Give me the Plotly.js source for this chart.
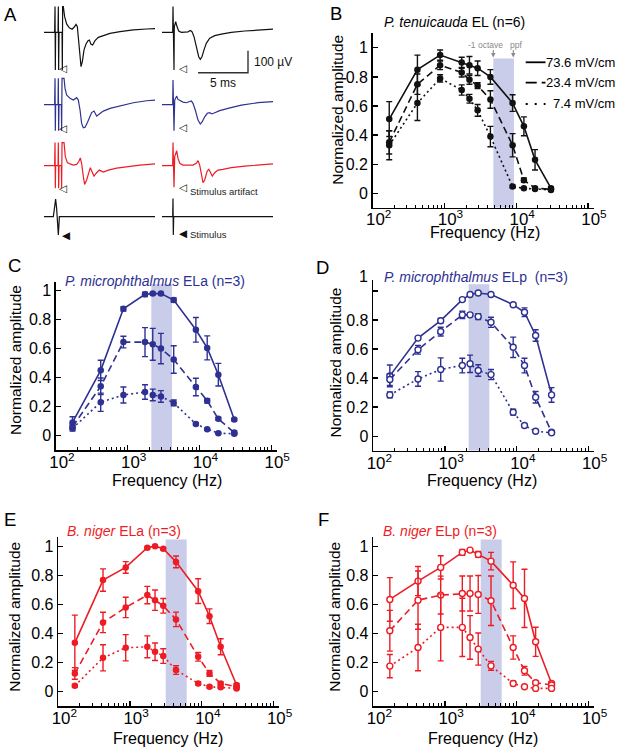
<!DOCTYPE html>
<html>
<head>
<meta charset="utf-8">
<script src="https://cdn.plot.ly/plotly-3.0.1.min.js"></script>
<style>html,body{margin:0;padding:0;background:#fff;}#chart{width:617px;height:747px;}</style>
</head>
<body>
<div id="chart"></div>
<script>
// ---------------- DATA ----------------
const freq = [170, 420, 870, 1740, 2230, 2900, 4370, 8900, 12800, 18300, 30500];
const yTickVals = [0, 0.2, 0.4, 0.6, 0.8, 1];
const yTickText = ['0', '0.2', '0.4', '0.6', '0.8', '1'];
const fieldLabels = ['73.6 mV/cm', '23.4 mV/cm', '7.4 mV/cm'];

// B: P. tenuicauda EL
const bHigh = [0.51, 0.85, 0.95, 0.90, 0.88, 0.86, 0.80, 0.62, 0.46, 0.23, 0.035];
const bHighErr = [0.12, 0.10, 0.035, 0.035, 0.06, 0.05, 0.05, 0.057, 0.065, 0.07, 0.01];
const bMid = [0.35, 0.75, 0.88, 0.83, 0.78, 0.74, 0.645, 0.33, 0.09, 0.035, 0.027];
const bMidErr = [0.08, 0.07, 0.03, 0.03, 0.03, 0.02, 0.06, 0.08, 0.015, 0.01, 0.01];
const bLow = [0.33, 0.62, 0.79, 0.71, 0.65, 0.57, 0.39, 0.046, 0.034, 0.03, 0.023];
const bLowErr = [0.1, 0.12, 0.025, 0.035, 0.03, 0.04, 0.07, 0.01, 0.005, 0.005, 0.005];
const bBand = [4800, 9300];

// C: P. microphthalmus ELa
const cHigh = [0.09, 0.45, 0.875, 0.975, 0.98, 0.98, 0.935, 0.73, 0.605, 0.42, 0.11];
const cHighErr = [0.04, 0.07, 0.015, 0.015, 0.008, 0.008, 0.015, 0.085, 0.083, 0.078, 0.008];
const cMid = [0.06, 0.34, 0.645, 0.645, 0.63, 0.60, 0.525, 0.335, 0.24, 0.115, 0.02];
const cMidErr = [0.02, 0.057, 0.04, 0.1, 0.11, 0.105, 0.095, 0.06, 0.015, 0.01, 0.01];
const cLow = [0.05, 0.23, 0.28, 0.30, 0.28, 0.27, 0.225, 0.08, 0.044, 0.016, 0.012];
const cLowErr = [0.02, 0.063, 0.055, 0.05, 0.04, 0.04, 0.02, 0.008, 0.006, 0.005, 0.005];
const cBand = [2130, 4140];

// D: P. microphthalmus ELp
const dHigh = [0.415, 0.675, 0.795, 0.94, 0.975, 0.985, 0.975, 0.905, 0.853, 0.693, 0.284];
const dHighErr = [0.075, 0.01, 0.015, 0.01, 0.008, 0.005, 0.005, 0.008, 0.03, 0.04, 0.05];
const dMid = [0.39, 0.595, 0.72, 0.835, 0.835, 0.823, 0.784, 0.612, 0.486, 0.268, 0.028];
const dMidErr = [0.04, 0.03, 0.03, 0.025, 0.01, 0.02, 0.035, 0.07, 0.05, 0.04, 0.008];
const dLow = [0.284, 0.394, 0.459, 0.486, 0.498, 0.452, 0.424, 0.165, 0.073, 0.034, 0.023];
const dLowErr = [0.02, 0.05, 0.08, 0.05, 0.06, 0.04, 0.035, 0.02, 0.008, 0.005, 0.005];
const dBand = [2130, 4140];

// E: B. niger ELa
const eHigh = [0.336, 0.767, 0.854, 0.989, 1.0, 0.982, 0.892, 0.691, 0.519, 0.309, 0.046];
const eHighErr = [0.19, 0.077, 0.04, 0.008, 0.005, 0.008, 0.04, 0.085, 0.05, 0.055, 0.01];
const eMid = [0.126, 0.476, 0.579, 0.664, 0.629, 0.59, 0.497, 0.24, 0.126, 0.057, 0.034];
const eMidErr = [0.04, 0.07, 0.07, 0.06, 0.07, 0.05, 0.05, 0.03, 0.02, 0.01, 0.008];
const eLow = [0.041, 0.233, 0.302, 0.309, 0.275, 0.245, 0.149, 0.057, 0.034, 0.03, 0.023];
const eLowErr = [0.008, 0.09, 0.09, 0.075, 0.06, 0.05, 0.03, 0.01, 0.008, 0.005, 0.005];
const eBand = [3140, 6160];

// F: B. niger ELp
const fHigh = [0.634, 0.76, 0.854, 0.957, 0.973, 0.943, 0.897, 0.732, 0.641, 0.343, 0.057];
const fHighErr = [0.15, 0.1, 0.08, 0.02, 0.01, 0.02, 0.06, 0.16, 0.2, 0.1, 0.01];
const fMid = [0.419, 0.629, 0.664, 0.675, 0.675, 0.668, 0.625, 0.304, 0.144, 0.062, 0.046];
const fMidErr = [0.14, 0.2, 0.13, 0.12, 0.12, 0.13, 0.17, 0.08, 0.03, 0.01, 0.008];
const fLow = [0.176, 0.304, 0.442, 0.442, 0.373, 0.293, 0.178, 0.057, 0.034, 0.023, 0.023];
const fLowErr = [0.08, 0.16, 0.23, 0.2, 0.15, 0.11, 0.03, 0.015, 0.005, 0.005, 0.005];
const fBand = [3140, 6160];

// A: example traces (time in ms, voltage in µV)
const leftRow1T = [-0.93,0.13,0.17,0.2,0.23,0.47,0.5,0.53,0.57,0.87,0.9,0.93,1.0,1.13,1.33,1.6,1.87,2.07,2.27,2.4,2.53,2.67,2.77,2.9,3.07,3.27,3.47,3.6,3.77,3.93,4.17,4.5,5.0,5.67,6.67,8.0,9.33,10.17];
const leftRow1V = [0,0,117,-171,0,0,117,-171,0,0,-171,117,117,71,38,20,14,23,36,26,-35,-118,-156,-133,-80,-53,-38,-35,-55,-58,-38,-23,-14,-5,3,11,15,17];
const leftRow2T = [-0.93,0.13,0.17,0.2,0.23,0.47,0.5,0.53,0.57,0.8,0.83,0.87,1.07,1.17,1.33,1.67,2.0,2.33,2.5,2.67,2.83,3.0,3.17,3.4,3.67,3.83,4.07,4.33,4.6,5.0,5.67,6.67,8.0,9.33,10.17];
const leftRow2V = [0,0,120,-118,0,0,120,-118,0,0,-118,120,120,74,44,29,21,32,21,-24,-85,-105,-103,-82,-47,-36,-29,-52,-42,-29,-17,-6,9,18,21];
const leftRow3T = [-0.93,0.13,0.17,0.2,0.23,0.47,0.5,0.53,0.57,0.8,0.83,0.87,1.07,1.2,1.4,1.67,2.0,2.33,2.53,2.7,2.83,3.0,3.13,3.33,3.57,3.7,3.87,4.07,4.33,4.6,5.0,5.5,6.33,7.33,8.67,10.17];
const leftRow3V = [0,0,105,-103,0,0,105,-103,0,0,-103,105,105,41,14,8,3,6,18,35,11,-50,-85,-65,-27,-9,-27,-47,-32,-20,-29,-20,-11,-5,3,8];
const leftRow4T = [-0.93,0,0.13,0.23,0.33,0.4,0.5,0.57,0.6,10.17];
const leftRow4V = [0,0,45,80,38,-15,-83,-30,0,0];

const rightRow1T = [-1.1,-0.03,0,0.03,0.07,0.1,0.13,0.27,0.4,0.57,0.83,1.17,1.5,1.73,1.9,2.1,2.33,2.57,2.73,2.9,3.1,3.33,3.67,4.17,4.83,5.83,7.17,8.5,10.0];
const rightRow1V = [0,0,117,-171,117,-171,26,48,26,6,0,0,2,8,3,-20,-65,-111,-123,-111,-80,-50,-27,-15,-8,0,6,11,14];
const rightRow2T = [-1.1,-0.03,0,0.03,0.07,0.1,0.17,0.37,0.5,0.7,1.0,1.33,1.67,1.83,2.0,2.23,2.5,2.73,2.93,3.17,3.43,3.67,3.9,4.17,4.67,5.5,6.83,8.5,10.0];
const rightRow2V = [0,0,112,-118,112,-118,21,39,24,18,12,9,14,17,6,-24,-70,-88,-77,-55,-39,-36,-42,-36,-27,-17,-2,9,14];
const rightRow3T = [-1.1,-0.03,0,0.03,0.07,0.1,0.17,0.37,0.5,0.67,1.0,1.5,2.0,2.33,2.5,2.67,2.83,3.0,3.17,3.4,3.57,3.77,3.93,4.17,4.5,5.0,5.83,7.17,8.5,10.0];
const rightRow3V = [0,0,105,-98,105,-98,41,68,33,11,3,2,3,11,23,3,-42,-77,-65,-27,-15,-35,-47,-32,-20,-17,-9,-2,3,8];
const rightRow4T = [-1.1,-0.03,0,0.03,0.07,10.0];
const rightRow4V = [0,0,83,-83,0,0];

const scaleBarT = [2.5, 7.5, 7.5];
const scaleBarV = [-184, -184, -84];

// ---------------- STYLE / LAYOUT ----------------
const W = 617, H = 747;
const px = x => x / W;
const py = y => 1 - y / H;
const BLACK = '#111111', BLUE = '#2e3192', RED = '#ed1c24', BAND = '#c9cdea';
const FONT = 'Liberation Sans, Arial, Helvetica, sans-serif';

const panels = [
  {id: '', color: BLACK, open: false, data: [bHigh, bMid, bLow], err: [bHighErr, bMidErr, bLowErr], band: bBand, bandTop: 0.927,
   xdom: [372.7, 593.7], ydom: [33.3, 207.8], ytop: 1.1, hideOne: false, standoff: -4},
  {id: '2', color: BLUE, open: false, data: [cHigh, cMid, cLow], err: [cHighErr, cMidErr, cLowErr], band: cBand, bandTop: 1.045,
   xdom: [56, 277], ydom: [281.7, 450], ytop: 1.062, hideOne: false, standoff: -3},
  {id: '3', color: BLUE, open: true, data: [dHigh, dMid, dLow], err: [dHighErr, dMidErr, dLowErr], band: dBand, bandTop: 1.045,
   xdom: [373.3, 594.3], ydom: [280, 450.7], ytop: 1.075, hideOne: true, standoff: -3},
  {id: '4', color: RED, open: false, data: [eHigh, eMid, eLow], err: [eHighErr, eMidErr, eLowErr], band: eBand, bandTop: 1.045,
   xdom: [58.3, 279.3], ydom: [536.7, 706.3], ytop: 1.065, hideOne: false, standoff: -3},
  {id: '5', color: RED, open: true, data: [fHigh, fMid, fLow], err: [fHighErr, fMidErr, fLowErr], band: fBand, bandTop: 1.045,
   xdom: [373.3, 594.3], ydom: [536.7, 706.3], ytop: 1.065, hideOne: false, standoff: -3}
];
const dashes = ['solid', '7px,4px', '2px,3px'];

const traces = [];
const shapes = [];
const layout = {
  width: W, height: H,
  margin: {l: 0, r: 0, t: 0, b: 0},
  paper_bgcolor: '#ffffff', plot_bgcolor: 'rgba(0,0,0,0)',
  showlegend: false,
  font: {family: FONT, color: '#000', size: 15.5},
  annotations: []
};

// shaded bands first (drawn underneath)
panels.forEach(p => {
  traces.push({type: 'scatter', mode: 'lines', fill: 'toself', fillcolor: BAND,
    x: [p.band[0], p.band[1], p.band[1], p.band[0], p.band[0]],
    y: [-0.1, -0.1, p.bandTop, p.bandTop, -0.1],
    xaxis: 'x' + p.id, yaxis: 'y' + p.id, line: {width: 0, color: BAND}, hoverinfo: 'skip'});
});

panels.forEach(p => {
  const xa = 'x' + p.id, ya = 'y' + p.id;
  p.data.forEach((vals, k) => {
    traces.push({
      type: 'scatter', mode: 'lines+markers', x: freq, y: vals,
      xaxis: xa, yaxis: ya, cliponaxis: false,
      line: {color: p.color, width: 1.6, dash: dashes[k]},
      marker: p.open ? {symbol: 'circle', size: 6, color: '#ffffff', line: {color: p.color, width: 1.4}}
                     : {symbol: 'circle', size: 6.5, color: p.color, line: {width: 0}},
      error_y: {type: 'data', array: p.err[k], visible: true, color: p.color, thickness: 1.4, width: 3}
    });
  });
  layout['xaxis' + p.id] = {
    type: 'log', domain: [px(p.xdom[0]), px(p.xdom[1])], range: [2, 5.08],
    anchor: ya, showgrid: false, zeroline: false, showline: true, linecolor: '#000', linewidth: 1.6,
    ticks: 'inside', ticklen: 5, tickwidth: 1.3, tickcolor: '#000',
    dtick: 1, exponentformat: 'power', showexponent: 'all',
    ticklabelshift: 6, ticklabelstandoff: p.standoff,
    minor: {ticks: 'inside', ticklen: 3, tickwidth: 1, tickcolor: '#000', dtick: 'D1', showgrid: false},
    tickfont: {size: 13.5, family: FONT}, fixedrange: true
  };
  layout['yaxis' + p.id] = {
    domain: [py(p.ydom[1]), py(p.ydom[0])], range: [-0.1, p.ytop],
    anchor: xa, showgrid: false, zeroline: false, showline: true, linecolor: '#000', linewidth: 1.6,
    ticks: 'inside', ticklen: 5, tickwidth: 1.3, tickcolor: '#000',
    tickmode: 'array', tickvals: yTickVals,
    ticktext: p.hideOne ? yTickText.slice(0, 5).concat(['']) : yTickText,
    tickfont: {size: 16, family: FONT}, fixedrange: true
  };
});

// Panel A axes
const rowBase = [32.3, 104.7, 165.7, 216.7];
const uvRange = [-200, 145], pxPerUv = 0.22;
layout.xaxis6 = {domain: [px(43.33), px(155.33)], range: [-1, 10.2], visible: false, anchor: 'y6', fixedrange: true};
layout.xaxis7 = {domain: [px(162), px(274)], range: [-1.1, 10.1], visible: false, anchor: 'y6', fixedrange: true};
rowBase.forEach((b, i) => {
  const top = b - uvRange[1] * pxPerUv, bot = b - uvRange[0] * pxPerUv;
  layout['yaxis' + (6 + i)] = {domain: [py(bot), py(top)], range: uvRange, visible: false, anchor: 'x6', fixedrange: true};
});
const aTraces = [
  [leftRow1T, leftRow1V, 'x6', 'y6', BLACK], [leftRow2T, leftRow2V, 'x6', 'y7', BLUE],
  [leftRow3T, leftRow3V, 'x6', 'y8', RED], [leftRow4T, leftRow4V, 'x6', 'y9', BLACK],
  [rightRow1T, rightRow1V, 'x7', 'y6', BLACK], [rightRow2T, rightRow2V, 'x7', 'y7', BLUE],
  [rightRow3T, rightRow3V, 'x7', 'y8', RED], [rightRow4T, rightRow4V, 'x7', 'y9', BLACK]
];
aTraces.forEach(t => traces.push({type: 'scatter', mode: 'lines', x: t[0], y: t[1], xaxis: t[2], yaxis: t[3],
  line: {color: t[4], width: 1.2}, cliponaxis: false, hoverinfo: 'skip'}));
traces.push({type: 'scatter', mode: 'lines', x: scaleBarT, y: scaleBarV, xaxis: 'x7', yaxis: 'y6',
  line: {color: '#333', width: 1.4}, cliponaxis: false, hoverinfo: 'skip'});

// ---------------- TEXT ----------------
const ann = layout.annotations;
function txt(text, x, y, opts) {
  ann.push(Object.assign({text: text, xref: 'paper', yref: 'paper', x: px(x), y: py(y), showarrow: false,
    xanchor: 'center', yanchor: 'middle', font: {size: 15.5, family: FONT, color: '#000'}}, opts || {}));
}
// panel letters
[['A', 10.3, 14.2], ['B', 336.3, 13.7], ['C', 14, 265.5], ['D', 322.7, 267.5], ['E', 9.5, 519.2], ['F', 323.7, 519.2]]
  .forEach(l => txt(l[0], l[1], l[2], {font: {size: 18.5, family: FONT, color: '#000'}}));
// panel titles
txt('<i>P. tenuicauda</i> EL (n=6)', 381.7, 21.7, {xanchor: 'left', font: {size: 14, family: FONT, color: '#000'}});
txt('<i>P. microphthalmus</i> ELa (n=3)', 63.3, 280.8, {xanchor: 'left', font: {size: 14, family: FONT, color: BLUE}});
txt('<i>P. microphthalmus</i> ELp  (n=3)', 381.7, 276.7, {xanchor: 'left', font: {size: 14, family: FONT, color: BLUE}});
txt('<i>B. niger</i> ELa (n=3)', 65, 530.7, {xanchor: 'left', font: {size: 14, family: FONT, color: RED}});
txt('<i>B. niger</i> ELp (n=3)', 381, 530.7, {xanchor: 'left', font: {size: 14, family: FONT, color: RED}});
// axis titles
[[336.7, 110], [15, 360], [335, 362.5], [15, 616.7], [335, 616.7]]
  .forEach(p => txt('Normalized amplitude', p[0], p[1], {textangle: -90}));
[[485, 232.5], [166.7, 480.5], [481.7, 480.5], [168.3, 738], [483.3, 738]]
  .forEach(p => txt('Frequency (Hz)', p[0], p[1], {font: {size: 16, family: FONT, color: '#000'}}));
// misplaced "1" tick label in D
txt('1', 363.3, 276.7, {font: {size: 16, family: FONT, color: '#000'}});
// legend in B
const legY = [62.3, 82.7, 104];
const legDash = ['solid', '11px,5px', '2px,7px'];
legY.forEach((y, i) => {
  shapes.push({type: 'line', xref: 'paper', yref: 'paper', x0: px(525.7), x1: px(545.5), y0: py(y), y1: py(y),
    line: {color: '#000', width: 1.8, dash: legDash[i]}});
  txt(fieldLabels[i], 616.5, y, {xanchor: 'right', font: {size: 13, family: FONT, color: '#000'}});
});
// band annotations in B
txt('-1 octave', 485.8, 44.8, {font: {size: 8.5, family: FONT, color: '#8a8a8a'}});
txt('ppf', 515.8, 44.8, {font: {size: 8.5, family: FONT, color: '#8a8a8a'}});
[493.3, 513.3].forEach(x => ann.push({text: '', xref: 'paper', yref: 'paper', x: px(x), y: py(57.5),
  ax: 0, ay: -9, showarrow: true, arrowhead: 2, arrowsize: 0.8, arrowwidth: 1.1, arrowcolor: '#8a8a8a'}));
// panel A labels
txt('100 µV', 252, 61.7, {xanchor: 'left', font: {size: 12, family: FONT, color: '#111'}});
txt('5 ms', 223.3, 82.7, {font: {size: 12, family: FONT, color: '#111'}});
const tri = {size: 10.5, family: 'DejaVu Sans, sans-serif', color: '#111'};
[[62.5, 68.3], [182.5, 68.3], [62.5, 128.3], [182.5, 127.3], [62.5, 188.3], [182.5, 187.3]]
  .forEach(p => txt('\u25C1', p[0], p[1], {font: tri}));
[[66.3, 235], [183.3, 233.3]].forEach(p => txt('\u25C0', p[0], p[1], {font: tri}));
txt('Stimulus artifact', 187.8, 191.5, {xanchor: 'left', font: {size: 9.5, family: FONT, color: '#222'}});
txt('Stimulus', 187.8, 234, {xanchor: 'left', font: {size: 9.5, family: FONT, color: '#222'}});

layout.shapes = shapes;
Plotly.newPlot('chart', traces, layout, {staticPlot: true, displayModeBar: false});
</script>
</body>
</html>
